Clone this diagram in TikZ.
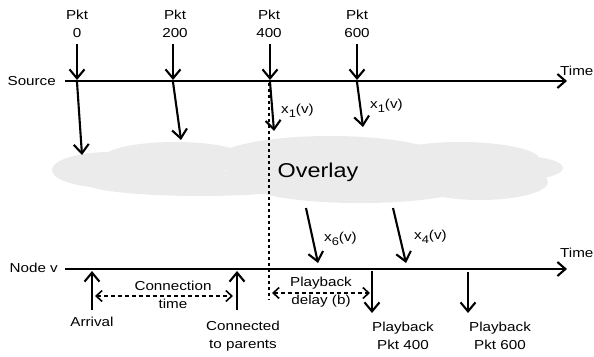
\documentclass[tikz,border=0pt]{standalone}
\usepackage{fontspec}
\setmainfont[FakeStretch=1.17]{Liberation Sans}
\usetikzlibrary{arrows.meta}
\tikzset{
  tl/.style={line width=2.1pt,-{Straight Barb[length=8pt,width=14pt,line width=2.1pt]}},
  arr/.style={line width=2.1pt,-{Straight Barb[length=9pt,width=15pt,line width=2.1pt]}},
  darr/.style={line width=1.6pt,dash pattern=on 4pt off 3pt,{Straight Barb[length=6pt,width=11pt,line width=1.6pt]}-{Straight Barb[length=6pt,width=11pt,line width=1.6pt]}},
  lbl/.style={inner sep=0pt,font=\fontsize{13}{18}\selectfont,align=center},
  cloudfill/.style={fill=black!8,draw=none}
}
\newcommand{\xlab}[1]{x\raisebox{-0.5ex}{\fontsize{11}{10}\selectfont #1}(v)}
\begin{document}
\begin{tikzpicture}[x=1pt,y=-1pt]
\useasboundingbox (0,0) rectangle (594,356);
% cloud
\fill[cloudfill] (110,170) ellipse [x radius=58, y radius=18];
\fill[cloudfill] (175,158) ellipse [x radius=72, y radius=16];
\fill[cloudfill] (200,183) ellipse [x radius=115, y radius=13];
\fill[cloudfill] (330,160) ellipse [x radius=115, y radius=24];
\fill[cloudfill] (360,185) ellipse [x radius=110, y radius=18];
\fill[cloudfill] (460,160) ellipse [x radius=80, y radius=18];
\fill[cloudfill] (480,182) ellipse [x radius=68, y radius=18];
\fill[cloudfill] (520,168) ellipse [x radius=43, y radius=12];
\node[lbl,font=\fontsize{20}{24}\selectfont] (ovl) at (318,172) {Overlay};

% source timeline
\coordinate (s0) at (65,81);
\coordinate (s1) at (567,81);
\draw[tl] (s0) -- (s1);
\node[lbl,anchor=east] (src) at (56,81) {Source};
\node[lbl,anchor=west] (time1) at (560,71) {Time};

% packets
\node[lbl] (pk0) at (77,24) {Pkt\\0};
\node[lbl] (pk200) at (175,24) {Pkt\\200};
\node[lbl] (pk400) at (269,24) {Pkt\\400};
\node[lbl] (pk600) at (357,24) {Pkt\\600};
\coordinate (a0) at (77,44); \coordinate (b0) at (77,80);
\coordinate (a2) at (173,44); \coordinate (b2) at (173,80);
\coordinate (a4) at (270,44); \coordinate (b4) at (270,80);
\coordinate (a6) at (357,44); \coordinate (b6) at (357,80);
\draw[arr] (a0) -- (b0);
\draw[arr] (a2) -- (b2);
\draw[arr] (a4) -- (b4);
\draw[arr] (a6) -- (b6);
\coordinate (c0) at (82,155);
\coordinate (c2) at (181,140);
\coordinate (c4) at (274,131);
\coordinate (c6) at (363,127);
\draw[arr] (77,82) -- (c0);
\draw[arr] (173,82) -- (c2);
\draw[arr] (270,82) -- (c4);
\draw[arr] (357,82) -- (c6);
\node[lbl,anchor=west] (x14) at (281,111) {\xlab{1}};
\node[lbl,anchor=west] (x16) at (370,106) {\xlab{1}};

% dotted line
\coordinate (d0) at (269,83);
\coordinate (d1) at (269,300);
\draw[line width=2.2pt,dash pattern=on 3pt off 3pt] (d0) -- (d1);

% node v timeline
\coordinate (n0) at (65,269);
\coordinate (n1) at (567,269);
\draw[tl] (n0) -- (n1);
\node[lbl,anchor=east] (nv) at (58,268) {Node v};
\node[lbl,anchor=west] (time2) at (560,253) {Time};

% overlay arrivals
\draw[arr] (306,208) -- (318,263);
\draw[arr] (393,208) -- (406,263);
\node[lbl,anchor=west] (x6) at (324,239) {\xlab{6}};
\node[lbl,anchor=west] (x4) at (414,237) {\xlab{4}};

% arrival / connected
\coordinate (ar0) at (92,310); \coordinate (ar1) at (92,271);
\coordinate (cn0) at (237,310); \coordinate (cn1) at (237,271);
\draw[arr] (ar0) -- (ar1);
\draw[arr] (cn0) -- (cn1);
\node[lbl] (arrl) at (92,322) {Arrival};
\node[lbl] (cnl) at (243,336) {Connected\\to parents};
\draw[darr] (95,296) -- (233,296);
\node[lbl] (ctl) at (173,295) {Connection\\time};

% playback delay
\draw[darr] (272,293) -- (370,293);
\node[lbl] (pbd) at (321,292) {Playback\\delay (b)};

% playback arrows
\coordinate (p4a) at (372,271); \coordinate (p4b) at (372,313);
\coordinate (p6a) at (468,272); \coordinate (p6b) at (468,313);
\draw[arr] (p4a) -- (p4b);
\draw[arr] (p6a) -- (p6b);
\node[lbl] (pb4) at (403,336) {Playback\\Pkt 400};
\node[lbl] (pb6) at (500,336) {Playback\\Pkt 600};
\end{tikzpicture}
\end{document}
